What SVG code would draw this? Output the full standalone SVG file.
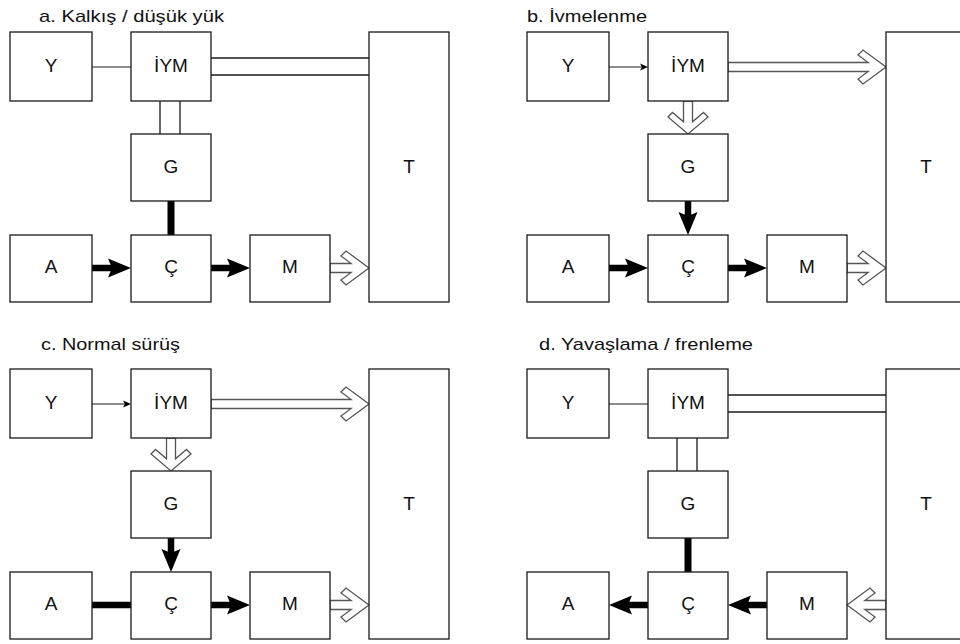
<svg xmlns="http://www.w3.org/2000/svg" xmlns:xlink="http://www.w3.org/1999/xlink" width="960" height="644" viewBox="0 0 960 644">
<style>
.box{fill:#fff;stroke:#1a1a1a;stroke-width:1.3}
.lbl{font-family:"Liberation Sans",Arial,sans-serif;font-size:19px;fill:#111;text-anchor:middle}
.ttl{font-family:"Liberation Sans",Arial,sans-serif;font-size:17px;fill:#111}
.thin{stroke:#1a1a1a;stroke-width:1.2;fill:none}
.dbl{stroke:#1a1a1a;stroke-width:1.3;fill:none}
.thick{stroke:#000;stroke-width:7;fill:none;stroke-linecap:round}
.thickb{stroke:#000;stroke-width:6.5;fill:none;stroke-linecap:round}
.hollow{fill:#fff;stroke:#555;stroke-width:1.3;stroke-linejoin:miter}
.head{fill:#000}
</style>
<defs>
<path id="hd" d="M0,0 L-23,-9.5 L-19,0 L-23,9.5 Z"/>
<path id="th" d="M0,0 L-8,-3.5 L-6,0 L-8,3.5 Z"/>
</defs>
<rect width="960" height="644" fill="#fff"/>

<g id="titles">
<text class="ttl" x="39" y="22" textLength="185" lengthAdjust="spacingAndGlyphs">a. Kalkış / düşük yük</text>
<text class="ttl" x="527" y="22" textLength="120" lengthAdjust="spacingAndGlyphs">b. İvmelenme</text>
<text class="ttl" x="41" y="350" textLength="139" lengthAdjust="spacingAndGlyphs">c. Normal sürüş</text>
<text class="ttl" x="539" y="350" textLength="214" lengthAdjust="spacingAndGlyphs">d. Yavaşlama / frenleme</text>
</g>

<g id="connectors">
<!-- panel a -->
<line class="thin" x1="92" y1="67" x2="131" y2="67"/>
<line class="dbl" x1="211" y1="58" x2="369" y2="58"/>
<line class="dbl" x1="211" y1="75" x2="369" y2="75"/>
<line class="dbl" x1="160" y1="101" x2="160" y2="134"/>
<line class="dbl" x1="180" y1="101" x2="180" y2="134"/>
<line class="thick" x1="171" y1="201" x2="171" y2="236"/>
<line class="thickb" x1="88" y1="268" x2="115" y2="268"/>
<use xlink:href="#hd" class="head" transform="translate(131,268)"/>
<line class="thickb" x1="208" y1="268" x2="234" y2="268"/>
<use xlink:href="#hd" class="head" transform="translate(250,268)"/>
<path class="hollow" d="M330,263.5 H351.15 L341,256 L346,251 L369,268 L346,285 L341,280 L351.15,272.5 H330 Z"/>

<!-- panel b -->
<line class="thin" x1="609" y1="67" x2="642" y2="67"/>
<use xlink:href="#th" class="head" transform="translate(648,67)"/>
<path class="hollow" d="M728,62.5 H868.15 L858,55 L863,50 L886,67 L863,84 L858,79 L868.15,71.5 H728 Z"/>
<path class="hollow" d="M683.5,101 V121.85 L672.5,112.5 L668,117 L688,134 L708,117 L703.5,112.5 L692.5,121.85 V101 Z"/>
<line class="thickb" x1="688" y1="201" x2="688" y2="218"/>
<use xlink:href="#hd" class="head" transform="translate(688,235) rotate(90)"/>
<line class="thickb" x1="605" y1="268" x2="632" y2="268"/>
<use xlink:href="#hd" class="head" transform="translate(648,268)"/>
<line class="thickb" x1="725" y1="268" x2="751" y2="268"/>
<use xlink:href="#hd" class="head" transform="translate(767,268)"/>
<path class="hollow" d="M847,263.5 H868.15 L858,256 L863,251 L886,268 L863,285 L858,280 L868.15,272.5 H847 Z"/>

<!-- panel c -->
<line class="thin" x1="92" y1="404" x2="125" y2="404"/>
<use xlink:href="#th" class="head" transform="translate(131,404)"/>
<path class="hollow" d="M211,399.5 H351.15 L341,392 L346,387 L369,404 L346,421 L341,416 L351.15,408.5 H211 Z"/>
<path class="hollow" d="M166.5,438 V458.85 L155.5,449.5 L151,454 L171,471 L191,454 L186.5,449.5 L175.5,458.85 V438 Z"/>
<line class="thickb" x1="171" y1="538" x2="171" y2="555"/>
<use xlink:href="#hd" class="head" transform="translate(171,572) rotate(90)"/>
<line class="thickb" x1="88" y1="605" x2="132" y2="605"/>
<line class="thickb" x1="208" y1="605" x2="234" y2="605"/>
<use xlink:href="#hd" class="head" transform="translate(250,605)"/>
<path class="hollow" d="M330,600.5 H351.15 L341,593 L346,588 L369,605 L346,622 L341,617 L351.15,609.5 H330 Z"/>

<!-- panel d -->
<line class="thin" x1="609" y1="404" x2="648" y2="404"/>
<line class="dbl" x1="728" y1="395" x2="886" y2="395"/>
<line class="dbl" x1="728" y1="412" x2="886" y2="412"/>
<line class="dbl" x1="677" y1="438" x2="677" y2="471"/>
<line class="dbl" x1="697" y1="438" x2="697" y2="471"/>
<line class="thick" x1="688" y1="538" x2="688" y2="573"/>
<line class="thickb" x1="650" y1="605" x2="625" y2="605"/>
<use xlink:href="#hd" class="head" transform="translate(609,605) rotate(180)"/>
<line class="thickb" x1="769" y1="605" x2="744" y2="605"/>
<use xlink:href="#hd" class="head" transform="translate(728,605) rotate(180)"/>
<path class="hollow" d="M886,600.5 H864.85 L875,593 L870,588 L847,605 L870,622 L875,617 L864.85,609.5 H886 Z"/>
</g>

<!-- panel a nodes -->
<g id="a-Y"><rect class="box" x="10" y="32" width="82" height="69"/><text class="lbl" x="51" y="72">Y</text></g>
<g id="a-IYM"><rect class="box" x="131" y="32" width="80" height="69"/><text class="lbl" x="171" y="72">İYM</text></g>
<g id="a-G"><rect class="box" x="131" y="134" width="80" height="67"/><text class="lbl" x="171" y="172.5">G</text></g>
<g id="a-A"><rect class="box" x="10" y="235" width="82" height="67"/><text class="lbl" x="51" y="273">A</text></g>
<g id="a-C"><rect class="box" x="131" y="235" width="80" height="67"/><text class="lbl" x="171" y="273">Ç</text></g>
<g id="a-M"><rect class="box" x="250" y="235" width="80" height="67"/><text class="lbl" x="290" y="273">M</text></g>
<g id="a-T"><rect class="box" x="369" y="32" width="80" height="270"/><text class="lbl" x="409" y="172.5">T</text></g>

<!-- panel b nodes -->
<g id="b-Y"><rect class="box" x="527" y="32" width="82" height="69"/><text class="lbl" x="568" y="72">Y</text></g>
<g id="b-IYM"><rect class="box" x="648" y="32" width="80" height="69"/><text class="lbl" x="688" y="72">İYM</text></g>
<g id="b-G"><rect class="box" x="648" y="134" width="80" height="67"/><text class="lbl" x="688" y="172.5">G</text></g>
<g id="b-A"><rect class="box" x="527" y="235" width="82" height="67"/><text class="lbl" x="568" y="273">A</text></g>
<g id="b-C"><rect class="box" x="648" y="235" width="80" height="67"/><text class="lbl" x="688" y="273">Ç</text></g>
<g id="b-M"><rect class="box" x="767" y="235" width="80" height="67"/><text class="lbl" x="807" y="273">M</text></g>
<g id="b-T"><rect class="box" x="886" y="32" width="80" height="270"/><text class="lbl" x="926" y="172.5">T</text></g>

<!-- panel c nodes -->
<g id="c-Y"><rect class="box" x="10" y="369" width="82" height="69"/><text class="lbl" x="51" y="409">Y</text></g>
<g id="c-IYM"><rect class="box" x="131" y="369" width="80" height="69"/><text class="lbl" x="171" y="409">İYM</text></g>
<g id="c-G"><rect class="box" x="131" y="471" width="80" height="67"/><text class="lbl" x="171" y="509.5">G</text></g>
<g id="c-A"><rect class="box" x="10" y="572" width="82" height="67"/><text class="lbl" x="51" y="610">A</text></g>
<g id="c-C"><rect class="box" x="131" y="572" width="80" height="67"/><text class="lbl" x="171" y="610">Ç</text></g>
<g id="c-M"><rect class="box" x="250" y="572" width="80" height="67"/><text class="lbl" x="290" y="610">M</text></g>
<g id="c-T"><rect class="box" x="369" y="369" width="80" height="270"/><text class="lbl" x="409" y="509.5">T</text></g>

<!-- panel d nodes -->
<g id="d-Y"><rect class="box" x="527" y="369" width="82" height="69"/><text class="lbl" x="568" y="409">Y</text></g>
<g id="d-IYM"><rect class="box" x="648" y="369" width="80" height="69"/><text class="lbl" x="688" y="409">İYM</text></g>
<g id="d-G"><rect class="box" x="648" y="471" width="80" height="67"/><text class="lbl" x="688" y="509.5">G</text></g>
<g id="d-A"><rect class="box" x="527" y="572" width="82" height="67"/><text class="lbl" x="568" y="610">A</text></g>
<g id="d-C"><rect class="box" x="648" y="572" width="80" height="67"/><text class="lbl" x="688" y="610">Ç</text></g>
<g id="d-M"><rect class="box" x="767" y="572" width="80" height="67"/><text class="lbl" x="807" y="610">M</text></g>
<g id="d-T"><rect class="box" x="886" y="369" width="80" height="270"/><text class="lbl" x="926" y="509.5">T</text></g>
</svg>
